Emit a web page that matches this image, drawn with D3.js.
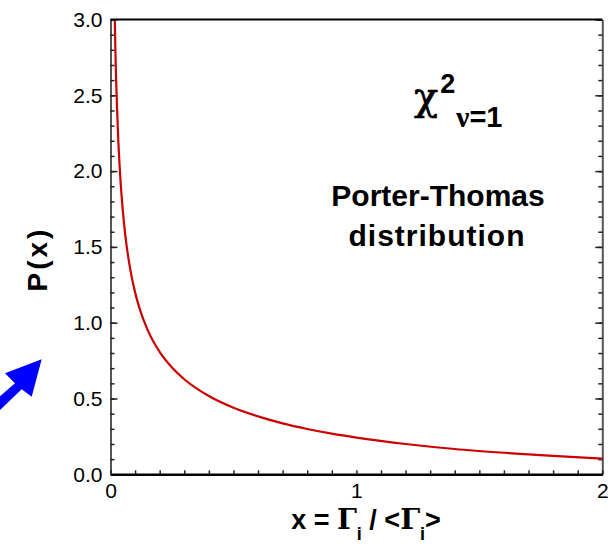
<!DOCTYPE html>
<html>
<head>
<meta charset="utf-8">
<script src="https://cdn.jsdelivr.net/npm/d3@7"></script>
<style>
  body { margin: 0; background: #fff; }
  svg { display: block; font-family: "Liberation Sans", Arial, sans-serif; }
</style>
</head>
<body>
<div id="chart"></div>
<script>
'use strict'

// values
const xValues = [0.0175, 0.02, 0.03, 0.04, 0.05, 0.06, 0.08, 0.1, 0.12, 0.15, 0.2, 0.25, 0.3,
                 0.4, 0.5, 0.6, 0.7, 0.8, 0.9, 1.0, 1.2, 1.4, 1.6, 1.8, 2.0];
const pValues = [2.99, 2.79, 2.27, 1.955, 1.74, 1.58, 1.355, 1.20, 1.085, 0.956, 0.807, 0.704, 0.627,
                 0.516, 0.439, 0.382, 0.336, 0.299, 0.268, 0.242, 0.200, 0.167, 0.142, 0.121, 0.104];
const xTickLabels = [0, 1, 2];
const yTickLabels = [0, 0.5, 1.0, 1.5, 2.0, 2.5, 3.0];

const W = 614, H = 546;
const margin = {top: 19.5, right: 11.7, bottom: 71.7, left: 110.5};
const width = W - margin.left - margin.right;
const height = H - margin.top - margin.bottom;

const svg = d3.select("#chart").append("svg")
    .attr("width", W)
    .attr("height", H);

const g = svg.append("g")
    .attr("transform", `translate(${margin.left}, ${margin.top})`);

const x = d3.scaleLinear().domain([0, 2]).range([0, width]);
const y = d3.scaleLinear().domain([0, 3]).range([height, 0]);

const minorX = d3.range(0, 21).map(i => i / 10);
const minorY = d3.range(0, 31).map(i => i / 10);

// left axis
const left = g.append("g")
    .call(d3.axisLeft(y).tickValues(minorY).tickSize(-4).tickSizeOuter(0).tickFormat(""));
g.append("g")
    .call(d3.axisLeft(y).tickValues(yTickLabels).tickSize(-7).tickSizeOuter(0).tickPadding(8)
        .tickFormat(d3.format(".1f")))
    .call(a => a.select(".domain").remove())
    .selectAll("text")
        .attr("font-size", "21px")
        .attr("fill", "#000")
        .style("font-family", "'Liberation Sans', Arial, sans-serif");

// right axis
const right = g.append("g")
    .attr("transform", `translate(${width}, 0)`)
    .call(d3.axisRight(y).tickValues(minorY).tickSize(-4).tickSizeOuter(0).tickFormat(""));
g.append("g")
    .attr("transform", `translate(${width}, 0)`)
    .call(d3.axisRight(y).tickValues(yTickLabels).tickSize(-7).tickSizeOuter(0).tickFormat(""))
    .call(a => a.select(".domain").remove());

[left, right].forEach(a => {
    a.select(".domain").attr("stroke", "#555").attr("stroke-width", 2);
});
g.selectAll(".tick line").attr("stroke", "#222").attr("stroke-width", 1.5);

// bottom axis
const bottom = g.append("g")
    .attr("transform", `translate(0, ${height})`)
    .call(d3.axisBottom(x).tickValues(minorX).tickSize(-4).tickSizeOuter(0).tickFormat(""));
bottom.selectAll(".tick line").attr("stroke", "#222").attr("stroke-width", 1.5);
bottom.select(".domain").attr("stroke", "#000").attr("stroke-width", 2.5);

g.append("g")
    .attr("transform", `translate(0, ${height})`)
    .call(d3.axisBottom(x).tickValues(xTickLabels).tickSize(0).tickPadding(9).tickFormat(d3.format("d")))
    .call(a => a.select(".domain").remove())
    .selectAll("text")
        .attr("font-size", "21px")
        .attr("fill", "#000")
        .style("font-family", "'Liberation Sans', Arial, sans-serif");

// top border
g.append("line")
    .attr("x1", x(0)).attr("x2", x(2))
    .attr("y1", y(3)).attr("y2", y(3))
    .attr("stroke", "#000")
    .attr("stroke-width", 2);

// curve
const curveData = xValues.map((v, i) => ({x: v, p: pValues[i]}));
const line = d3.line()
    .x(d => x(d.x))
    .y(d => y(d.p))
    .curve(d3.curveMonotoneX);

g.append("path")
    .datum(curveData)
    .attr("fill", "none")
    .attr("stroke", "#cc0000")
    .attr("stroke-width", 2.2)
    .attr("d", line);

// axis titles
const xt = svg.append("text")
    .attr("x", 366)
    .attr("y", 529)
    .attr("text-anchor", "middle")
    .attr("font-size", "27px")
    .attr("font-weight", "bold");
xt.append("tspan").text("x = ");
xt.append("tspan").attr("font-family", "'DejaVu Serif', serif").attr("font-size", "28px").text("Γ");
xt.append("tspan").attr("font-size", "18px").attr("dy", 11).text("i");
xt.append("tspan").attr("dy", -11).text(" / <");
xt.append("tspan").attr("font-family", "'DejaVu Serif', serif").attr("font-size", "28px").text("Γ");
xt.append("tspan").attr("font-size", "18px").attr("dy", 11).text("i");
xt.append("tspan").attr("dy", -11).text(">");

svg.append("text")
    .attr("transform", "translate(47, 259) rotate(-90)")
    .attr("text-anchor", "middle")
    .attr("font-size", "28px")
    .attr("font-weight", "bold")
    .attr("letter-spacing", "3px")
    .text("P(x)");

// chi-square label
const chi = svg.append("text").attr("x", 414).attr("y", 110);
chi.append("tspan").attr("font-family", "'DejaVu Serif', serif").attr("font-size", "40px")
    .attr("stroke", "#000").attr("stroke-width", 0.6).text("χ");
chi.append("tspan").attr("font-size", "27px").attr("font-weight", "bold").attr("dy", -17).attr("dx", 2).text("2");
const sub = svg.append("text").attr("x", 456).attr("y", 127).attr("font-size", "29px").attr("font-weight", "bold");
sub.append("tspan").attr("font-family", "'Liberation Serif', serif").attr("font-size", "30px").text("ν");
sub.append("tspan").text("=1");

const pt = svg.append("text")
    .attr("text-anchor", "middle")
    .attr("font-size", "30px")
    .attr("font-weight", "bold");
pt.append("tspan").attr("x", 438).attr("y", 206).text("Porter-Thomas");
pt.append("tspan").attr("x", 437).attr("y", 246).attr("letter-spacing", "1px").text("distribution");

// blue arrow
svg.append("path")
    .attr("d", "M41.7,359.3 L31.7,396.7 L21.7,389.3 L-2,412 L-2,398 L15,383.3 L5,373.3 Z")
    .attr("fill", "#0000ff");
</script>
</body>
</html>
